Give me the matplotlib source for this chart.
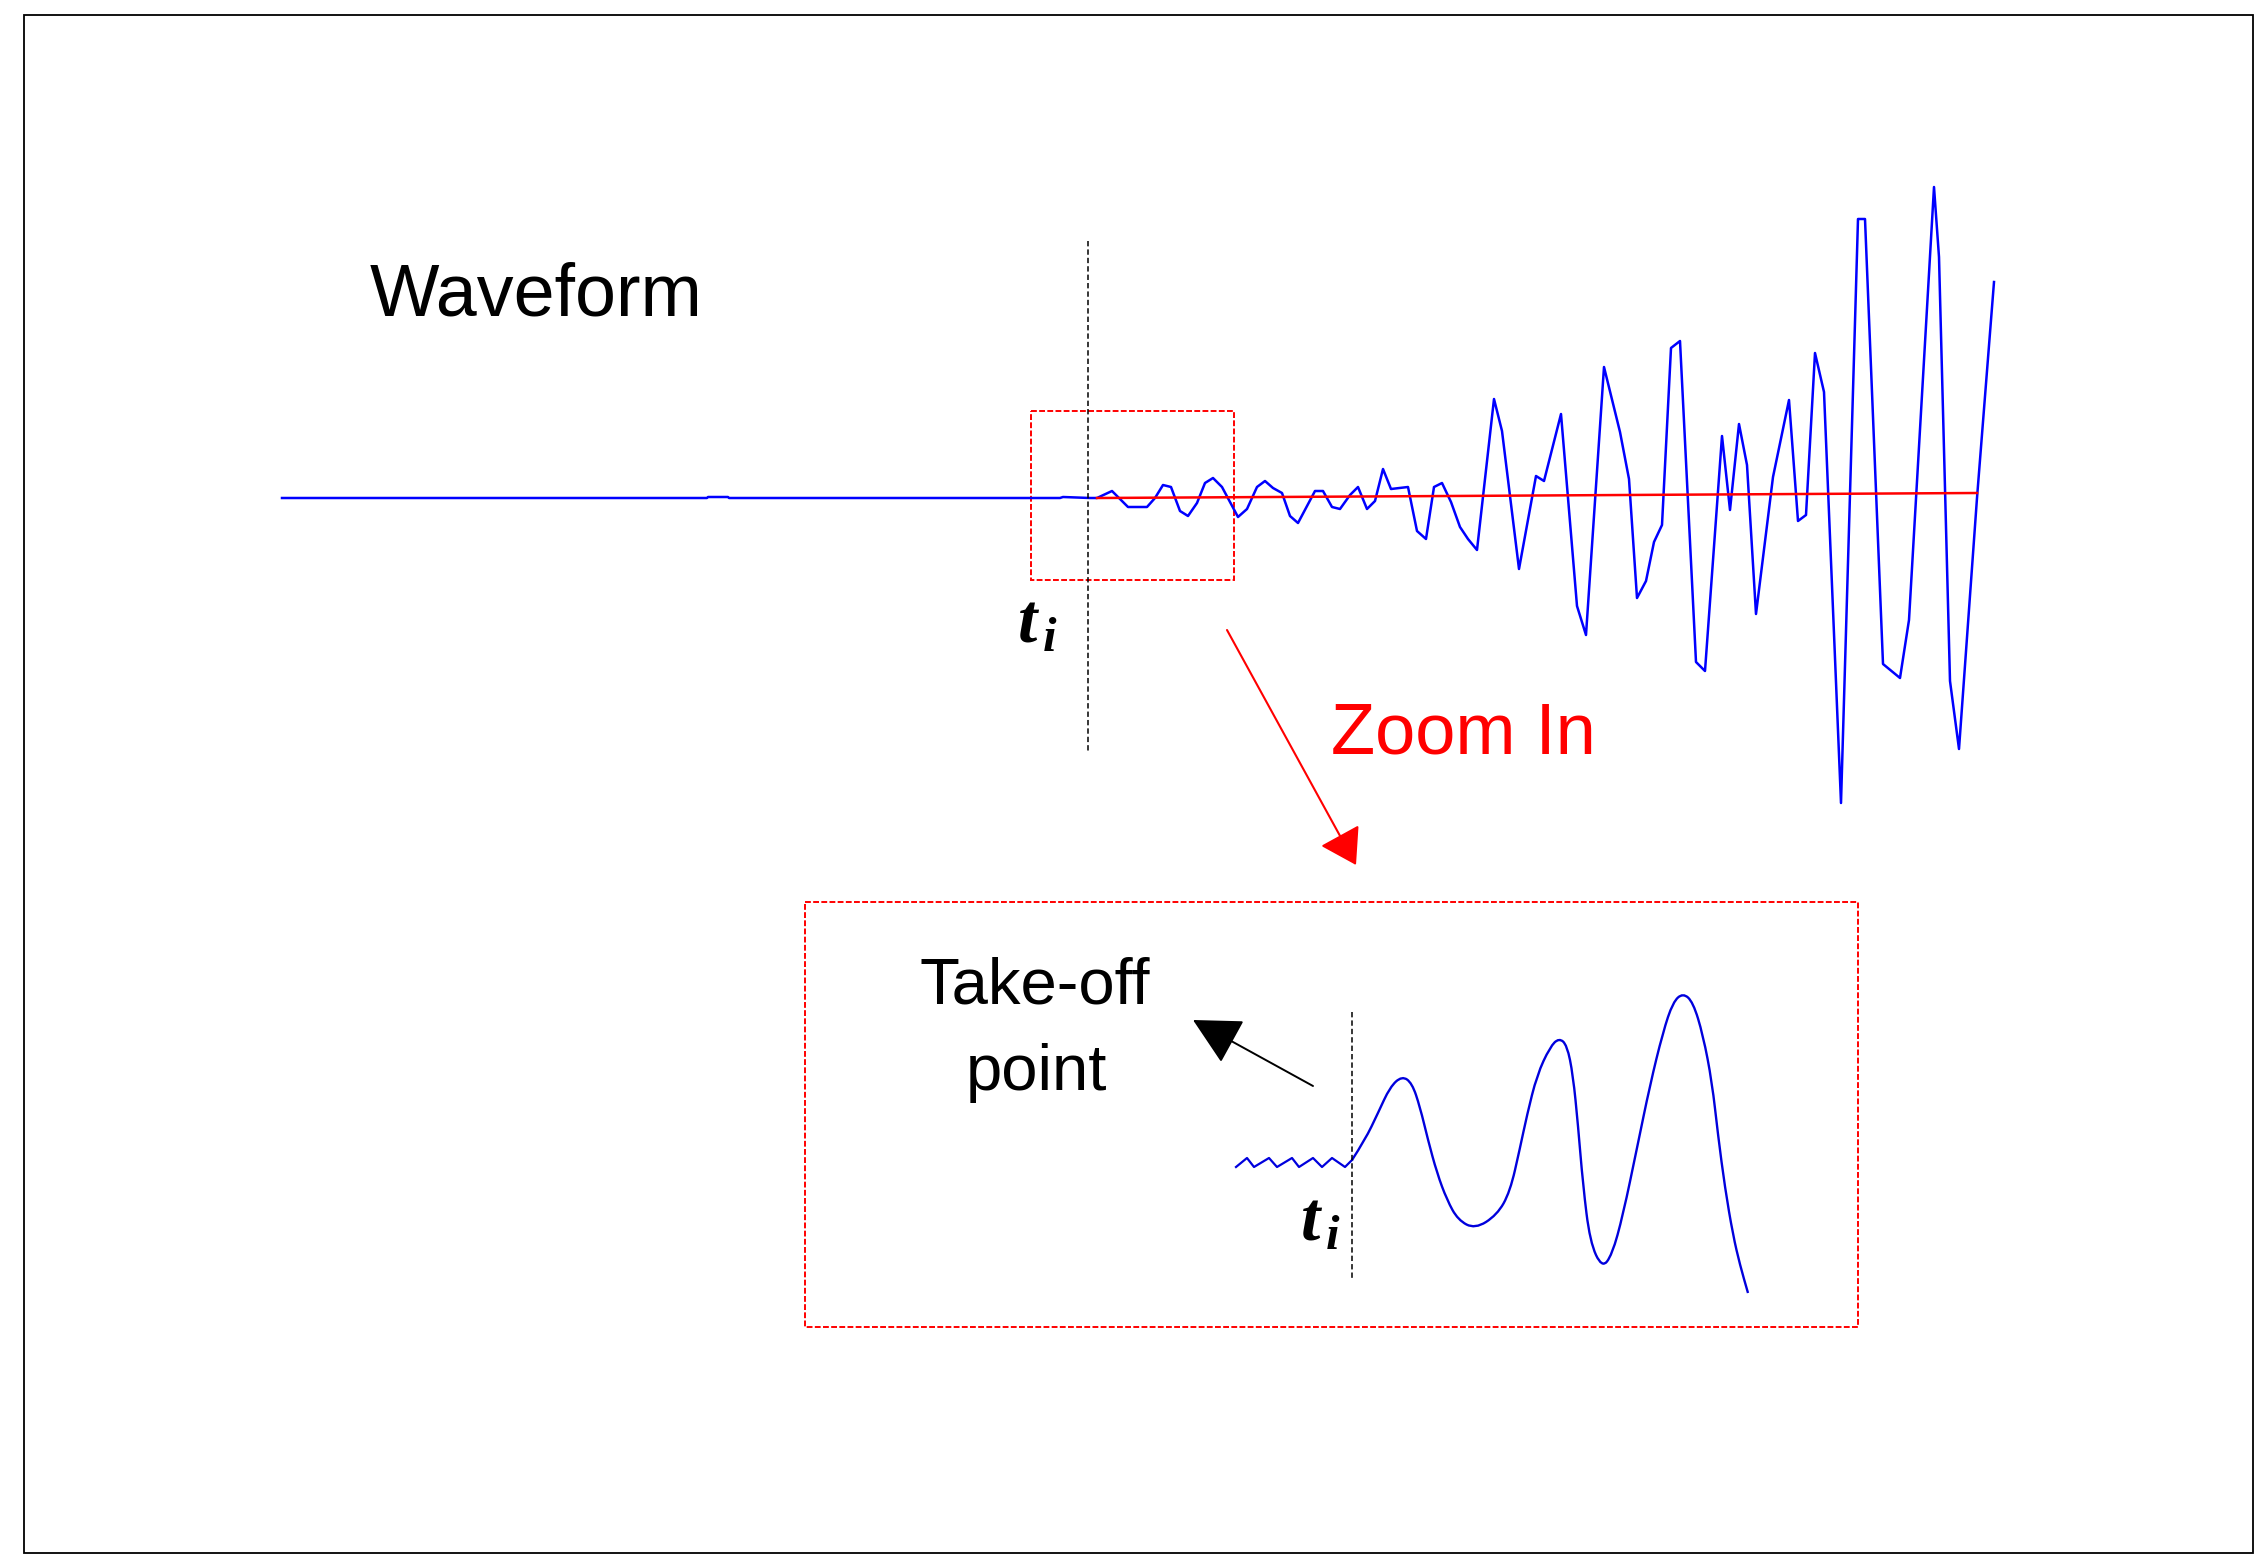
import matplotlib
matplotlib.use("Agg")
import matplotlib.pyplot as plt
from matplotlib.patches import Rectangle, PathPatch
from matplotlib.path import Path
import numpy as np

plt.rcParams["font.family"] = ["Liberation Sans", "DejaVu Sans"]
plt.rcParams["mathtext.fontset"] = "custom"
plt.rcParams["mathtext.bfit"] = "Liberation Serif:italic:bold"
plt.rcParams["mathtext.it"] = "Liberation Serif:italic"
plt.rcParams["mathtext.rm"] = "Liberation Serif"

# Recorded waveform: time relative to take-off point t_i, amplitude about the baseline
wave_t = [-806, -381, -380, -360, -359, -28, -25, 2, 9, 24, 40, 59, 67, 75, 83, 92, 100, 109,
          117, 125, 134, 150, 159, 169, 177, 185, 194, 202, 210, 227, 235, 244, 252, 262, 270,
          279, 287, 295, 303, 320, 329, 338, 346, 354, 363, 372, 380, 389, 406, 414, 431, 448,
          456, 473, 489, 498, 516, 532, 541, 549, 558, 566, 574, 583, 592, 608, 617, 634, 642,
          651, 659, 668, 685, 701, 710, 718, 727, 736, 753, 770, 777, 795, 812, 821, 846, 851,
          862, 871, 889, 906]
wave_amp = [0, 0, 1, 1, 0, 0, 1, 0, 0, 7, -9, -9, 0, 13, 11, -13, -18, -5, 15, 20, 11, -19,
            -11, 11, 17, 10, 5, -18, -25, 7, 7, -9, -11, 3, 11, -11, -3, 29, 9, 11, -33, -41,
            11, 15, -4, -29, -41, -52, 99, 67, -71, 22, 17, 84, -108, -137, 131, 66, 19, -100,
            -83, -44, -27, 150, 157, -164, -173, 62, -12, 74, 33, -116, 21, 98, -23, -17, 145,
            106, -305, 279, 279, -166, -180, -122, 311, 241, -183, -251, 0, 216]

# red reference (trend) line after t_i
trend_t = [9, 889]
trend_amp = [0, 5]

# zoomed-in sketch: noise before t_i, then the onset of the signal
noise_t = [-116, -105, -98, -83, -75, -60, -53, -39, -30, -20, -7, 0]
noise_amp = [-5, 4, -5, 4, -5, 4, -5, 4, -5, 4, -5, 2]
onset_t = [0, 13, 26, 38, 50, 60, 68, 76, 85, 95, 106, 123, 145, 158, 168, 175, 185, 198, 207,
           215, 221, 226, 231, 238, 250, 260, 271, 285, 298, 311, 321, 331, 341, 351, 360, 366,
           373, 381, 388, 396]
onset_amp = [2, 22, 49, 75, 86, 79, 55, 22, -11, -38, -58, -67, -53, -30, 14, 47, 87, 115, 124,
             117, 87, 37, -23, -80, -106, -93, -53, 14, 77, 130, 160, 169, 160, 127, 80, 27, -26,
             -73, -103, -131]


def smooth_path(xs, ys):
    """Quadratic bezier through the midpoints, points used as control points."""
    pts = list(zip(xs, ys))
    verts = [pts[0]]
    codes = [Path.MOVETO]
    for i in range(1, len(pts) - 1):
        mid = ((pts[i][0] + pts[i + 1][0]) / 2, (pts[i][1] + pts[i + 1][1]) / 2)
        verts += [pts[i], mid]
        codes += [Path.CURVE3, Path.CURVE3]
    verts.append(pts[-1])
    codes.append(Path.LINETO)
    return Path(verts, codes)


W, H = 2267, 1566
fig = plt.figure(figsize=(W / 100, H / 100), dpi=100)
ax = fig.add_axes([0, 0, 1, 1])
ax.set_xlim(0, W)
ax.set_ylim(H, 0)
ax.axis("off")

# outer frame
ax.add_patch(Rectangle((24, 15), 2229, 1538, fill=False, edgecolor="black", lw=1.3))

# main waveform
ti_x, base_y = 1088, 498
ax.plot(ti_x + np.array(wave_t), base_y - np.array(wave_amp), color="#0000FF", lw=1.8)
ax.plot(ti_x + np.array(trend_t), base_y - np.array(trend_amp), color="#FF0000", lw=1.8)
ax.plot([ti_x, ti_x], [241, 753], color="black", lw=1.1, dashes=(3.5, 2))
ax.add_patch(Rectangle((1031, 411), 203, 169, fill=False, edgecolor="#FF0000",
                       lw=1.4, linestyle=(0, (3, 1.2))))
ax.text(1017, 642, r"$\mathbfit{t}_{\,\mathbfit{i}}$", fontsize=50, va="baseline", ha="left")
ax.text(370, 315, "Waveform", fontsize=53, va="baseline", ha="left")

# zoom arrow
ax.annotate("", xy=(1356, 865), xytext=(1227, 630),
            arrowprops=dict(arrowstyle="-|>,head_length=2.2,head_width=1.4",
                            mutation_scale=10, color="#FF0000", lw=1.5,
                            shrinkA=0, shrinkB=0))
ax.text(1331, 753, "Zoom In", fontsize=52, color="#FF0000", va="baseline", ha="left")

# zoomed box
ax.add_patch(Rectangle((805, 902), 1053, 425, fill=False, edgecolor="#FF0000",
                       lw=1.4, linestyle=(0, (3, 1.2))))
zi_x, zbase_y = 1352, 1162
ax.plot(zi_x + np.array(noise_t), zbase_y - np.array(noise_amp), color="#0000DD", lw=1.6,
        solid_joinstyle="round")
onset_path = smooth_path(zi_x + np.array(onset_t), zbase_y - np.array(onset_amp))
ax.add_patch(PathPatch(onset_path, fill=False, edgecolor="#0000DD", lw=1.7))
ax.plot([zi_x, zi_x], [1012, 1280], color="black", lw=1.1, dashes=(3.5, 2))
ax.text(1300, 1240, r"$\mathbfit{t}_{\,\mathbfit{i}}$", fontsize=50, va="baseline", ha="left")
ax.text(1035, 1003, "Take-off", fontsize=47, va="baseline", ha="center")
ax.text(1036, 1090, "point", fontsize=47, va="baseline", ha="center")
ax.annotate("", xy=(1193, 1020), xytext=(1313, 1086),
            arrowprops=dict(arrowstyle="-|>,head_length=3.0,head_width=1.55",
                            mutation_scale=10, color="black", lw=1.4,
                            shrinkA=0, shrinkB=0))

fig.savefig("out.png", dpi=100, facecolor="white")
